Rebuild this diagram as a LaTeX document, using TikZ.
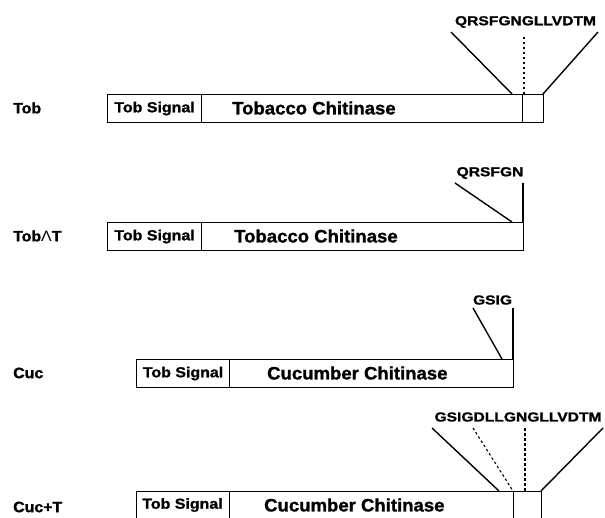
\documentclass[tikz,border=0pt]{standalone}
\usepackage{fontspec}
\setmainfont{Liberation Sans}
\newfontfamily\hv{Liberation Sans Bold}[FakeBold=1.2]
\newfontfamily\lt{Liberation Sans}
\begin{document}
\begin{tikzpicture}[x=1pt,y=-1pt,
  box/.style={draw, line width=1.1pt, inner sep=0pt, anchor=north west},
  sigtxt/.style={font=\hv\fontsize{14.5}{14.5}\selectfont, xscale=1.1},
  chitxt/.style={font=\hv\fontsize{18}{18}\selectfont, xscale=1.03, anchor=west, inner sep=0pt},
  labtxt/.style={font=\hv\fontsize{15}{15}\selectfont, xscale=1.06, anchor=west, inner sep=0pt},
  seqtxt/.style={font=\hv\fontsize{13}{13}\selectfont, xscale=1.2, inner sep=0pt},
  solidln/.style={line width=1.4pt},
  vertln/.style={line width=1.1pt},
  dashln/.style={line width=1.1pt, dash pattern=on 2.5pt off 2.5pt}]
\useasboundingbox (0,0) rectangle (605,518);
\clip (0,0) rectangle (605,518);

% ---------- Row 1: Tob ----------
\node[labtxt] (lab1) at (13,108) {Tob};
\node[box, minimum width=94pt, minimum height=28pt] (sig1) at (107,94) {};
\node[sigtxt] at (sig1.center) {Tob Signal};
\node[box, minimum width=321pt, minimum height=28pt] (chi1) at (201,94) {};
\node[chitxt] (chit1) at (232,108) {Tobacco Chitinase};
\node[box, minimum width=21pt, minimum height=28pt] (tail1) at (522,94) {};
\node[seqtxt] (seq1) at (525.5,22) {QRSFGNGLLVDTM};
\coordinate (s1a) at (451,32); \coordinate (e1a) at (512,94);
\coordinate (s1b) at (524,37); \coordinate (e1b) at (524,94);
\coordinate (s1c) at (598,32); \coordinate (e1c) at (543,94);
\draw[solidln] (s1a) -- (e1a);
\draw[dashln] (s1b) -- (e1b);
\draw[solidln] (s1c) -- (e1c);

% ---------- Row 2: Tob Delta T ----------
\node[labtxt] (lab2) at (13,236) {Tob{\lt Λ}T};
\node[box, minimum width=94pt, minimum height=28pt] (sig2) at (107,222) {};
\node[sigtxt] at (sig2.center) {Tob Signal};
\node[box, minimum width=322pt, minimum height=28pt] (chi2) at (201,222) {};
\node[chitxt] (chit2) at (234,236) {Tobacco Chitinase};
\node[seqtxt] (seq2) at (490,173) {QRSFGN};
\coordinate (s2a) at (455,183); \coordinate (e2a) at (512,222);
\coordinate (s2b) at (523,183); \coordinate (e2b) at (523,222);
\draw[solidln] (s2a) -- (e2a);
\draw[vertln] (s2b) -- (e2b);

% ---------- Row 3: Cuc ----------
\node[labtxt] (lab3) at (13,373) {Cuc};
\node[box, minimum width=93pt, minimum height=28pt] (sig3) at (136,359) {};
\node[sigtxt] at (sig3.center) {Tob Signal};
\node[box, minimum width=284pt, minimum height=28pt] (chi3) at (229,359) {};
\node[chitxt] (chit3) at (267,373) {Cucumber Chitinase};
\node[seqtxt] (seq3) at (492.5,300) {GSIG};
\coordinate (s3a) at (473,308); \coordinate (e3a) at (502,359);
\coordinate (s3b) at (513,308); \coordinate (e3b) at (513,359);
\draw[solidln] (s3a) -- (e3a);
\draw[vertln] (s3b) -- (e3b);

% ---------- Row 4: Cuc+T ----------
\node[labtxt] (lab4) at (13,507) {Cuc+T};
\node[box, minimum width=93pt, minimum height=40pt] (sig4) at (136,491) {};
\node[sigtxt] at (182.5,505) {Tob Signal};
\node[box, minimum width=284pt, minimum height=40pt] (chi4) at (229,491) {};
\node[chitxt] (chit4) at (264,505) {Cucumber Chitinase};
\node[box, minimum width=28pt, minimum height=40pt] (tail4) at (513,491) {};
\node[seqtxt] (seq4) at (518,417) {GSIGDLLGNGLLVDTM};
\coordinate (s4a) at (432,428); \coordinate (e4a) at (499,491);
\coordinate (s4b) at (473,428); \coordinate (e4b) at (513,491);
\coordinate (s4c) at (525,428); \coordinate (e4c) at (525,491);
\coordinate (s4d) at (603,428); \coordinate (e4d) at (541,491);
\draw[solidln] (s4a) -- (e4a);
\draw[dashln] (s4b) -- (e4b);
\draw[dashln] (s4c) -- (e4c);
\draw[solidln] (s4d) -- (e4d);
\end{tikzpicture}
\end{document}
